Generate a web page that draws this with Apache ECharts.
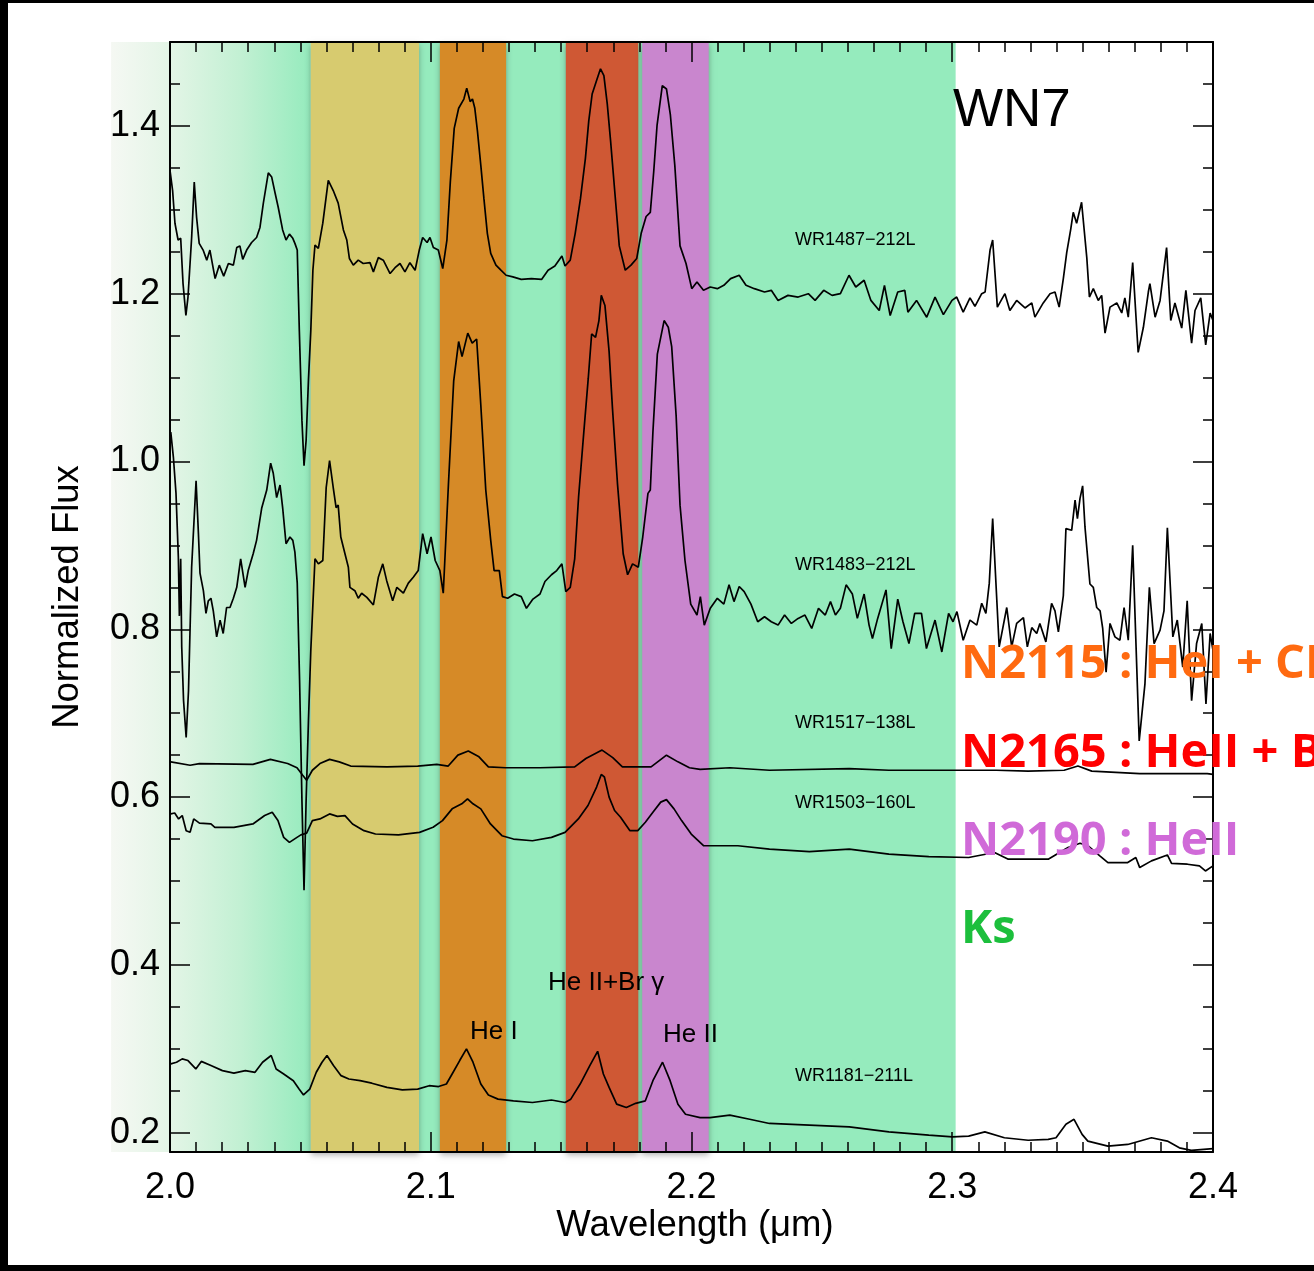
<!DOCTYPE html>
<html><head><meta charset="utf-8">
<script src="https://cdn.jsdelivr.net/npm/echarts@6/dist/echarts.min.js"></script>
<style>html,body{margin:0;padding:0;background:#fff}#c{width:1314px;height:1271px}</style>
</head><body><div id="c"></div>
<script>
// ---------------- data ----------------
const xTickValues = [2.0, 2.1, 2.2, 2.3, 2.4];
const yMajorTicks = [0.2, 0.4, 0.6, 0.8, 1.0, 1.2, 1.4];
const yMinorTicks = [0.2,0.25,0.3,0.35,0.4,0.45,0.5,0.55,0.6,0.65,0.7,0.75,0.8,0.85,0.9,0.95,1.0,1.05,1.1,1.15,1.2,1.25,1.3,1.35,1.4,1.45];
const Y_MIN = 0.177, Y_MAX = 1.5, X_MIN = 2.0, X_MAX = 2.4;

// filter bands (micron)
const bandNames  = ['Ks', 'N2060', 'N2115', 'N2165', 'N2190'];
const bandStart  = [1.9774, 2.0540, 2.1035, 2.1518, 2.1811];
const bandEnd    = [2.3013, 2.0955, 2.1289, 2.1796, 2.2066];
const ksGradientEnd = 2.0540;

const spectrumNames = ['WR1487\u2212212L', 'WR1483\u2212212L', 'WR1517\u2212138L', 'WR1503\u2212160L', 'WR1181\u2212211L'];

const wr1487 = [[2.0000,1.347],[2.0010,1.323],[2.0019,1.284],[2.0031,1.264],[2.0041,1.266],[2.0050,1.212],[2.0061,1.174],[2.0069,1.196],[2.0083,1.267],[2.0093,1.333],[2.0102,1.291],[2.0112,1.260],[2.0127,1.252],[2.0141,1.240],[2.0153,1.252],[2.0173,1.218],[2.0189,1.234],[2.0206,1.221],[2.0224,1.236],[2.0243,1.234],[2.0256,1.255],[2.0268,1.257],[2.0279,1.241],[2.0294,1.252],[2.0313,1.261],[2.0332,1.267],[2.0345,1.279],[2.0358,1.308],[2.0377,1.344],[2.0390,1.339],[2.0403,1.320],[2.0415,1.303],[2.0432,1.276],[2.0445,1.264],[2.0458,1.271],[2.0471,1.266],[2.0479,1.260],[2.0488,1.252],[2.0496,1.156],[2.0506,1.049],[2.0514,0.995],[2.0522,1.025],[2.0531,1.097],[2.0540,1.156],[2.0548,1.228],[2.0556,1.258],[2.0569,1.254],[2.0586,1.284],[2.0607,1.335],[2.0626,1.323],[2.0645,1.308],[2.0665,1.276],[2.0678,1.264],[2.0688,1.242],[2.0703,1.234],[2.0722,1.240],[2.0741,1.236],[2.0767,1.237],[2.0780,1.226],[2.0799,1.243],[2.0818,1.240],[2.0844,1.224],[2.0863,1.231],[2.0882,1.236],[2.0901,1.226],[2.0920,1.237],[2.0940,1.228],[2.0956,1.252],[2.0969,1.267],[2.0986,1.261],[2.0997,1.267],[2.1010,1.255],[2.1029,1.252],[2.1046,1.230],[2.1062,1.264],[2.1075,1.333],[2.1090,1.397],[2.1107,1.421],[2.1127,1.432],[2.1138,1.445],[2.1151,1.429],[2.1160,1.432],[2.1169,1.421],[2.1179,1.394],[2.1192,1.353],[2.1204,1.313],[2.1217,1.272],[2.1230,1.248],[2.1250,1.234],[2.1269,1.228],[2.1289,1.222],[2.1315,1.220],[2.1347,1.217],[2.1386,1.218],[2.1425,1.217],[2.1450,1.228],[2.1476,1.233],[2.1503,1.245],[2.1515,1.233],[2.1535,1.240],[2.1554,1.272],[2.1574,1.313],[2.1593,1.361],[2.1606,1.406],[2.1619,1.438],[2.1636,1.454],[2.1651,1.468],[2.1664,1.460],[2.1677,1.426],[2.1690,1.381],[2.1707,1.317],[2.1723,1.257],[2.1746,1.228],[2.1768,1.234],[2.1790,1.242],[2.1807,1.272],[2.1826,1.292],[2.1842,1.297],[2.1855,1.345],[2.1868,1.401],[2.1888,1.448],[2.1904,1.444],[2.1919,1.413],[2.1936,1.353],[2.1956,1.257],[2.1979,1.236],[2.2001,1.206],[2.2021,1.214],[2.2046,1.204],[2.2072,1.208],[2.2099,1.206],[2.2124,1.210],[2.2150,1.218],[2.2183,1.222],[2.2209,1.210],[2.2241,1.206],[2.2280,1.202],[2.2306,1.204],[2.2332,1.192],[2.2370,1.198],[2.2409,1.196],[2.2448,1.200],[2.2474,1.192],[2.2507,1.204],[2.2539,1.198],[2.2571,1.200],[2.2604,1.222],[2.2630,1.208],[2.2662,1.216],[2.2688,1.192],[2.2720,1.180],[2.2740,1.210],[2.2762,1.174],[2.2791,1.202],[2.2818,1.204],[2.2830,1.178],[2.2863,1.192],[2.2902,1.172],[2.2934,1.196],[2.2966,1.175],[2.2999,1.192],[2.3017,1.196],[2.3042,1.178],[2.3068,1.195],[2.3087,1.185],[2.3113,1.200],[2.3126,1.202],[2.3145,1.252],[2.3155,1.264],[2.3173,1.184],[2.3202,1.200],[2.3221,1.180],[2.3247,1.192],[2.3279,1.183],[2.3305,1.189],[2.3317,1.172],[2.3349,1.189],[2.3375,1.200],[2.3394,1.202],[2.3410,1.184],[2.3426,1.218],[2.3439,1.249],[2.3454,1.276],[2.3464,1.297],[2.3477,1.284],[2.3496,1.309],[2.3516,1.243],[2.3526,1.196],[2.3541,1.206],[2.3560,1.192],[2.3573,1.198],[2.3586,1.153],[2.3605,1.184],[2.3631,1.189],[2.3650,1.177],[2.3662,1.195],[2.3675,1.172],[2.3692,1.237],[2.3713,1.130],[2.3733,1.160],[2.3752,1.202],[2.3758,1.212],[2.3778,1.172],[2.3797,1.192],[2.3822,1.255],[2.3838,1.168],[2.3854,1.189],[2.3880,1.159],[2.3896,1.204],[2.3918,1.141],[2.3931,1.180],[2.3953,1.195],[2.3972,1.139],[2.3989,1.177],[2.4000,1.168]];

const wr1483 = [[2.0003,1.035],[2.0013,1.005],[2.0023,0.962],[2.0032,0.886],[2.0036,0.816],[2.0041,0.884],[2.0045,0.779],[2.0052,0.715],[2.0062,0.671],[2.0071,0.727],[2.0083,0.874],[2.0100,0.977],[2.0109,0.914],[2.0115,0.867],[2.0128,0.846],[2.0138,0.819],[2.0147,0.834],[2.0157,0.837],[2.0166,0.822],[2.0179,0.791],[2.0192,0.811],[2.0204,0.795],[2.0217,0.826],[2.0230,0.826],[2.0243,0.837],[2.0256,0.850],[2.0271,0.884],[2.0288,0.850],[2.0300,0.870],[2.0319,0.890],[2.0332,0.906],[2.0352,0.945],[2.0371,0.966],[2.0386,0.998],[2.0396,0.986],[2.0409,0.957],[2.0422,0.972],[2.0432,0.945],[2.0445,0.902],[2.0460,0.910],[2.0471,0.906],[2.0479,0.892],[2.0488,0.855],[2.0497,0.739],[2.0506,0.596],[2.0514,0.489],[2.0522,0.596],[2.0531,0.691],[2.0540,0.775],[2.0556,0.884],[2.0569,0.878],[2.0586,0.882],[2.0599,0.969],[2.0612,1.001],[2.0626,0.969],[2.0637,0.945],[2.0645,0.948],[2.0655,0.910],[2.0671,0.890],[2.0684,0.874],[2.0690,0.850],[2.0709,0.846],[2.0722,0.837],[2.0735,0.843],[2.0755,0.838],[2.0780,0.829],[2.0799,0.862],[2.0816,0.878],[2.0831,0.858],[2.0854,0.834],[2.0870,0.850],[2.0895,0.843],[2.0914,0.855],[2.0933,0.862],[2.0952,0.870],[2.0969,0.914],[2.0986,0.890],[2.1001,0.910],[2.1017,0.882],[2.1035,0.870],[2.1048,0.843],[2.1068,0.974],[2.1088,1.096],[2.1107,1.143],[2.1120,1.125],[2.1142,1.153],[2.1159,1.141],[2.1176,1.146],[2.1192,1.067],[2.1211,0.966],[2.1230,0.906],[2.1243,0.870],[2.1263,0.870],[2.1275,0.839],[2.1295,0.837],[2.1321,0.842],[2.1347,0.839],[2.1367,0.825],[2.1392,0.836],[2.1419,0.842],[2.1438,0.857],[2.1463,0.865],[2.1483,0.870],[2.1503,0.878],[2.1518,0.845],[2.1535,0.850],[2.1552,0.884],[2.1567,0.958],[2.1587,1.035],[2.1604,1.099],[2.1617,1.152],[2.1632,1.148],[2.1645,1.168],[2.1654,1.198],[2.1668,1.186],[2.1684,1.131],[2.1697,1.063],[2.1716,0.974],[2.1738,0.890],[2.1755,0.865],[2.1774,0.878],[2.1796,0.874],[2.1813,0.910],[2.1833,0.962],[2.1842,0.966],[2.1852,1.035],[2.1869,1.128],[2.1895,1.168],[2.1911,1.160],[2.1924,1.137],[2.1941,1.055],[2.1956,0.948],[2.1975,0.882],[2.1997,0.830],[2.2021,0.817],[2.2034,0.839],[2.2049,0.805],[2.2072,0.825],[2.2099,0.837],[2.2124,0.830],[2.2144,0.853],[2.2163,0.833],[2.2183,0.851],[2.2202,0.845],[2.2228,0.830],[2.2254,0.809],[2.2280,0.815],[2.2306,0.809],[2.2332,0.805],[2.2357,0.817],[2.2383,0.807],[2.2409,0.813],[2.2435,0.817],[2.2461,0.801],[2.2487,0.825],[2.2513,0.817],[2.2533,0.833],[2.2552,0.817],[2.2571,0.825],[2.2593,0.853],[2.2617,0.842],[2.2636,0.813],[2.2662,0.842],[2.2681,0.805],[2.2694,0.789],[2.2714,0.813],[2.2746,0.847],[2.2766,0.777],[2.2791,0.836],[2.2811,0.809],[2.2834,0.783],[2.2856,0.819],[2.2882,0.819],[2.2901,0.777],[2.2934,0.811],[2.2960,0.773],[2.2986,0.819],[2.3003,0.809],[2.3018,0.821],[2.3042,0.787],[2.3068,0.811],[2.3094,0.805],[2.3113,0.831],[2.3129,0.819],[2.3142,0.855],[2.3155,0.932],[2.3180,0.779],[2.3209,0.826],[2.3228,0.779],[2.3247,0.807],[2.3273,0.814],[2.3288,0.779],[2.3305,0.802],[2.3324,0.795],[2.3336,0.807],[2.3359,0.785],[2.3381,0.831],[2.3394,0.822],[2.3407,0.797],[2.3426,0.840],[2.3436,0.920],[2.3458,0.918],[2.3471,0.954],[2.3480,0.932],[2.3490,0.956],[2.3500,0.971],[2.3509,0.922],[2.3528,0.854],[2.3541,0.850],[2.3554,0.826],[2.3567,0.822],[2.3577,0.801],[2.3590,0.749],[2.3605,0.807],[2.3624,0.791],[2.3643,0.787],[2.3659,0.826],[2.3675,0.787],[2.3692,0.900],[2.3717,0.667],[2.3739,0.735],[2.3756,0.850],[2.3774,0.783],[2.3797,0.799],[2.3812,0.822],[2.3825,0.921],[2.3846,0.791],[2.3863,0.811],[2.3884,0.755],[2.3901,0.834],[2.3918,0.715],[2.3937,0.783],[2.3957,0.807],[2.3973,0.711],[2.3989,0.795],[2.4000,0.775]];

const wr1517 = [[2.0003,0.642],[2.0077,0.638],[2.0113,0.640],[2.0318,0.639],[2.0385,0.645],[2.0451,0.640],[2.0487,0.635],[2.0509,0.626],[2.0524,0.620],[2.0546,0.632],[2.0575,0.640],[2.0612,0.645],[2.0649,0.642],[2.0693,0.637],[2.0832,0.636],[2.0950,0.637],[2.1023,0.639],[2.1067,0.637],[2.1104,0.650],[2.1144,0.655],[2.1185,0.648],[2.1221,0.636],[2.1287,0.635],[2.1419,0.635],[2.1552,0.636],[2.1595,0.646],[2.1657,0.656],[2.1698,0.647],[2.1735,0.636],[2.1801,0.636],[2.1845,0.636],[2.1904,0.650],[2.1948,0.642],[2.1992,0.635],[2.2033,0.633],[2.2147,0.635],[2.2299,0.632],[2.2605,0.634],[2.2757,0.632],[2.3001,0.632],[2.3169,0.632],[2.3291,0.631],[2.3429,0.632],[2.3482,0.637],[2.3535,0.631],[2.3719,0.628],[2.3978,0.628],[2.4000,0.627]];

const wr1503 = [[2.0003,0.580],[2.0018,0.581],[2.0033,0.574],[2.0047,0.578],[2.0062,0.560],[2.0077,0.558],[2.0091,0.574],[2.0113,0.569],[2.0157,0.568],[2.0172,0.564],[2.0245,0.564],[2.0318,0.568],[2.0363,0.578],[2.0392,0.582],[2.0414,0.572],[2.0436,0.552],[2.0458,0.546],[2.0487,0.552],[2.0502,0.555],[2.0524,0.557],[2.0546,0.572],[2.0575,0.574],[2.0612,0.580],[2.0642,0.577],[2.0671,0.578],[2.0700,0.568],[2.0744,0.560],[2.0788,0.556],[2.0876,0.555],[2.0957,0.558],[2.1009,0.564],[2.1045,0.572],[2.1082,0.586],[2.1119,0.592],[2.1141,0.598],[2.1162,0.592],[2.1192,0.586],[2.1229,0.568],[2.1273,0.554],[2.1317,0.550],[2.1390,0.548],[2.1463,0.552],[2.1515,0.558],[2.1566,0.574],[2.1603,0.590],[2.1636,0.612],[2.1654,0.627],[2.1666,0.624],[2.1684,0.600],[2.1705,0.584],[2.1728,0.576],[2.1764,0.560],[2.1794,0.560],[2.1823,0.570],[2.1852,0.582],[2.1882,0.594],[2.1904,0.597],[2.1933,0.586],[2.1962,0.572],[2.1999,0.556],[2.2047,0.542],[2.2178,0.542],[2.2299,0.538],[2.2452,0.535],[2.2605,0.538],[2.2757,0.532],[2.2910,0.529],[2.3063,0.528],[2.3162,0.534],[2.3215,0.526],[2.3368,0.526],[2.3444,0.540],[2.3490,0.545],[2.3520,0.542],[2.3566,0.530],[2.3597,0.522],[2.3673,0.522],[2.3704,0.528],[2.3719,0.516],[2.3764,0.524],[2.3825,0.531],[2.3841,0.521],[2.3902,0.520],[2.3948,0.518],[2.3971,0.512],[2.4000,0.518]];

const wr1181 = [[2.0003,0.282],[2.0025,0.284],[2.0047,0.288],[2.0069,0.286],[2.0099,0.276],[2.0120,0.285],[2.0157,0.280],[2.0201,0.274],[2.0245,0.271],[2.0289,0.274],[2.0326,0.272],[2.0355,0.284],[2.0388,0.292],[2.0407,0.276],[2.0436,0.270],[2.0473,0.262],[2.0495,0.252],[2.0512,0.245],[2.0536,0.252],[2.0561,0.272],[2.0583,0.284],[2.0602,0.292],[2.0627,0.280],[2.0656,0.268],[2.0686,0.264],[2.0729,0.262],[2.0774,0.259],[2.0832,0.254],[2.0891,0.251],[2.0950,0.252],[2.0994,0.256],[2.1030,0.255],[2.1060,0.258],[2.1082,0.270],[2.1111,0.286],[2.1137,0.300],[2.1162,0.284],[2.1192,0.258],[2.1221,0.245],[2.1258,0.240],[2.1317,0.238],[2.1390,0.236],[2.1463,0.239],[2.1515,0.236],[2.1537,0.240],[2.1573,0.258],[2.1610,0.280],[2.1640,0.297],[2.1662,0.270],[2.1684,0.254],[2.1713,0.234],[2.1750,0.230],[2.1786,0.235],[2.1823,0.238],[2.1852,0.262],[2.1889,0.284],[2.1918,0.262],[2.1948,0.234],[2.1977,0.222],[2.2033,0.218],[2.2071,0.218],[2.2147,0.221],[2.2223,0.216],[2.2299,0.211],[2.2452,0.209],[2.2605,0.207],[2.2757,0.201],[2.2910,0.197],[2.3001,0.195],[2.3063,0.196],[2.3125,0.201],[2.3200,0.194],[2.3291,0.191],[2.3368,0.192],[2.3398,0.194],[2.3436,0.210],[2.3467,0.216],[2.3498,0.198],[2.3520,0.190],[2.3597,0.184],[2.3673,0.186],[2.3764,0.194],[2.3825,0.190],[2.3871,0.182],[2.3917,0.179],[2.4000,0.181]];

const spectra = [wr1487, wr1483, wr1517, wr1503, wr1181];

// ---------------- styles ----------------
const bandColors = ['#95ebbd', '#d7cb6f', '#d68a27', '#cf5834', '#c986ce'];
const FONT = '"Liberation Sans", Arial, Helvetica, sans-serif';
const BOLD = '"Open Sans", "Noto Sans", sans-serif';

const chart = echarts.init(document.getElementById('c'), null, {renderer: 'canvas', width: 1314, height: 1271});

function mkX(position, showLabel) {
  return {
    type: 'value', min: X_MIN, max: X_MAX, interval: 0.1, position, z: 10,
    axisLine: {show: true, onZero: false, lineStyle: {color: '#000', width: 2}},
    axisTick: {show: true, inside: true, length: 20, lineStyle: {color: '#000', width: 1.5}},
    minorTick: {show: true, splitNumber: 10, length: 10, lineStyle: {color: '#000', width: 1.5}},
    axisLabel: {show: showLabel, margin: 18, fontSize: 36, fontFamily: FONT, color: '#000', formatter: v => v.toFixed(1)},
    splitLine: {show: false}, minorSplitLine: {show: false}
  };
}
function mkY(position, showLabel, ticks, len, showLine) {
  return {
    type: 'value', min: Y_MIN, max: Y_MAX, position, z: 10,
    axisLine: {show: showLine, onZero: false, lineStyle: {color: '#000', width: 2}},
    axisTick: {show: true, inside: true, length: len, customValues: ticks, lineStyle: {color: '#000', width: 1.5}},
    axisLabel: {show: showLabel, customValues: yMajorTicks, margin: 10, fontSize: 36, fontFamily: FONT, color: '#000', formatter: v => v.toFixed(1)},
    splitLine: {show: false}
  };
}

chart.setOption({
  backgroundColor: '#fff',
  animation: false,
  grid: {left: 170, right: 101, top: 42, bottom: 119, containLabel: false},
  xAxis: [mkX('bottom', true), mkX('top', false)],
  yAxis: [mkY('left', true, yMajorTicks, 20, true), mkY('left', false, yMinorTicks, 10, false),
          mkY('right', false, yMajorTicks, 20, true), mkY('right', false, yMinorTicks, 10, false)],
  series: spectra.map((d, i) => ({
    name: spectrumNames[i], type: 'line', xAxisIndex: 0, yAxisIndex: 0, data: d,
    symbol: 'none', showSymbol: false, silent: true, z: 5,
    lineStyle: {color: '#000', width: 1.7}
  }))
});

const px = v => chart.convertToPixel({xAxisIndex: 0}, v);
const py = v => chart.convertToPixel({yAxisIndex: 0}, v);
const yTop = py(Y_MAX), yBot = py(Y_MIN);

const g = [];
// Ks band: gradient part + solid part
g.push({type: 'rect', z: 1, silent: true,
  shape: {x: px(bandStart[0]), y: yTop, width: px(ksGradientEnd) - px(bandStart[0]), height: yBot - yTop},
  style: {fill: {type: 'linear', x: 0, y: 0, x2: 1, y2: 0, colorStops: [
    {offset: 0, color: '#f5f8f3'}, {offset: 0.3, color: '#e3f5e6'}, {offset: 0.65, color: '#c2f0d3'}, {offset: 1, color: bandColors[0]}]}}});
g.push({type: 'rect', z: 1, silent: true,
  shape: {x: px(ksGradientEnd), y: yTop, width: px(bandEnd[0]) - px(ksGradientEnd), height: yBot - yTop},
  style: {fill: bandColors[0]}});
for (let i = 1; i < bandStart.length; i++) {
  g.push({type: 'rect', z: 2, silent: true,
    shape: {x: px(bandStart[i]), y: yTop, width: px(bandEnd[i]) - px(bandStart[i]), height: yBot - yTop},
    style: {fill: bandColors[i], shadowBlur: 6, shadowOffsetY: 3, shadowColor: 'rgba(0,0,0,0.3)'}});
}
function txt(text, x, y, font, color, align, extra) {
  return Object.assign({type: 'text', x, y, z: 20, silent: true,
    style: {text, font, fill: color, textAlign: align || 'left', align: align || 'left', textVerticalAlign: 'middle', verticalAlign: 'middle'}}, extra || {});
}
// black picture frame
g.push({type: 'rect', z: 30, shape: {x: 0, y: 0, width: 8, height: 1271}, style: {fill: '#000'}});
g.push({type: 'rect', z: 30, shape: {x: 0, y: 0, width: 1314, height: 3}, style: {fill: '#000'}});
g.push({type: 'rect', z: 30, shape: {x: 0, y: 1265, width: 1314, height: 6}, style: {fill: '#000'}});

// titles
g.push(txt('Wavelength (\u03bcm)', 695, 1226, '36.5px ' + FONT, '#000', 'center'));
g.push(txt('Normalized Flux', 68, 597, '36.5px ' + FONT, '#000', 'center', {rotation: Math.PI / 2}));
g.push(txt('WN7', 953, 111, '53px ' + FONT, '#000'));
// spectrum labels
const labelY = [240, 565, 723, 803, 1076];
spectrumNames.forEach((n, i) => g.push(txt(n, 795, labelY[i], '18px ' + FONT, '#000')));
// line identifications
g.push(txt('He I', 470, 1032, '26px ' + FONT, '#000'));
g.push(txt('He II+Br \u03b3', 548, 983, '26px ' + FONT, '#000'));
g.push(txt('He II', 663, 1035, '26px ' + FONT, '#000'));
// filter labels
g.push(txt('N2115 : HeI + CI', 961, 665, 'bold 47px ' + BOLD, '#ff6a10'));
g.push(txt('N2165 : HeII + Br\u03b3', 961, 754, 'bold 47px ' + BOLD, '#ff0000'));
g.push(txt('N2190 : HeII', 961, 842, 'bold 47px ' + BOLD, '#d06ad8'));
g.push(txt('Ks', 961, 930, 'bold 47px ' + BOLD, '#1cbf3c'));

chart.setOption({graphic: {elements: g}});
</script>
</body></html>
